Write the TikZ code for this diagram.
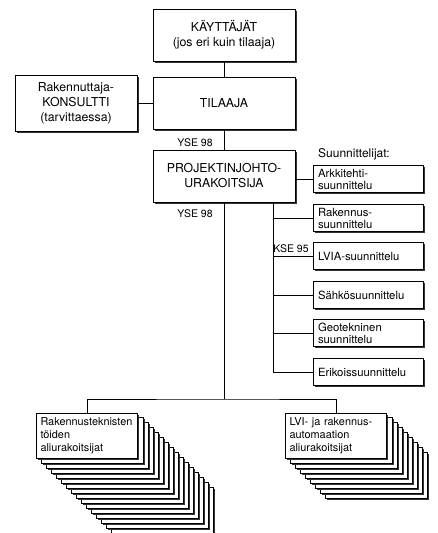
\documentclass[tikz,border=0pt]{standalone}
\usepackage{fontspec}
\setmainfont{TeX Gyre Heros}
\usetikzlibrary{shadows, backgrounds, calc}

\tikzset{
  line/.style={line width=0.8pt},
  varjo/.style={drop shadow={shadow xshift=1.6pt, shadow yshift=-1.6pt, opacity=1, fill=black!80}},
  mainbox/.style={draw, fill=white, line, varjo, minimum width=142, minimum height=52,
    align=center, font=\fontsize{12.3}{15}\selectfont},
  designbox/.style={draw, fill=white, line, varjo, text width=100, inner xsep=5, inner ysep=1,
    minimum height=27, align=left, font=\fontsize{11.3}{12}\selectfont},
  subbox/.style={draw, fill=white, line, varjo, text width=93, inner xsep=4,
    minimum height=45, align=left, font=\fontsize{10.9}{13}\selectfont},
  stackbox/.style={draw, fill=white, line, varjo},
  lbl/.style={inner sep=1, font=\fontsize{10.5}{12}\selectfont},
}

\begin{document}
\begin{tikzpicture}[x=1pt, y=-1pt]
      \useasboundingbox (0,0) rectangle (437,533);

      \node[mainbox] (kayttajat) at (224,35) {KÄYTTÄJÄT\\(jos eri kuin tilaaja)};
      \node[mainbox] (tilaaja) at (224,103) {TILAAJA};
      \node[mainbox, minimum width=122, minimum height=56] (konsultti) at (76,103) {Rakennuttaja-\\KONSULTTI\\(tarvittaessa)};
      \node[mainbox] (projekti) at (224,176) {PROJEKTINJOHTO-\\URAKOITSIJA};

      % suunnittelijat
      \node[designbox] (arkkitehti) at (368,179) {Arkkitehti-\\suunnittelu};
      \node[designbox] (rakennus) at (368,218) {Rakennus-\\suunnittelu};
      \node[designbox] (lvia) at (368,256) {LVIA-suunnittelu};
      \node[designbox] (sahko) at (368,295) {Sähkösuunnittelu};
      \node[designbox] (geo) at (368,333) {Geotekninen\\suunnittelu};
      \node[designbox] (erikois) at (368,372) {Erikoissuunnittelu};
      \node[anchor=south west, inner sep=1, font=\fontsize{12}{14}\selectfont] (otsikko) at (317,161) {Suunnittelijat:};

      % aliurakoitsijat
      \node[subbox] (rtekn) at (87,435.5) {Rakennusteknisten\\töiden\\aliurakoitsijat};
      \node[subbox] (lvi) at (336,435.5) {LVI- ja rakennus-\\automaation\\aliurakoitsijat};

      \node[lbl] (yse1) at (195,143) {YSE 98};
      \node[lbl] (yse2) at (195,214) {YSE 98};
      \node[lbl] (kse) at (291,249) {KSE 95};

      \coordinate (bus) at (273,0);
      \coordinate (haara) at (224,399);

      \draw[line] (kayttajat) -- (tilaaja);
      \draw[line] (konsultti) -- (tilaaja);
      \draw[line] (tilaaja) -- (projekti);
      \draw[line] (arkkitehti.west) -- (arkkitehti.west -| projekti.east);
      \draw[line] (bus |- projekti.south) |- (erikois.west);
      \foreach \n in {rakennus, lvia, sahko, geo}
        \draw[line] (\n.west) -- (\n.west -| bus);
      \draw[line] (projekti.south) -- (haara);
      \draw[line] (rtekn.north) |- (haara) -| (lvi.north);

      \begin{scope}[on background layer]
        \foreach \i in {15,...,1}
          \draw[stackbox] ($(rtekn.north west)+(5*\i,5*\i)$) rectangle ($(rtekn.south east)+(5*\i,5*\i)$);
        \foreach \i in {8,...,1}
          \draw[stackbox] ($(lvi.north west)+(5*\i,5*\i)$) rectangle ($(lvi.south east)+(5*\i,5*\i)$);
      \end{scope}
\end{tikzpicture}
\end{document}
